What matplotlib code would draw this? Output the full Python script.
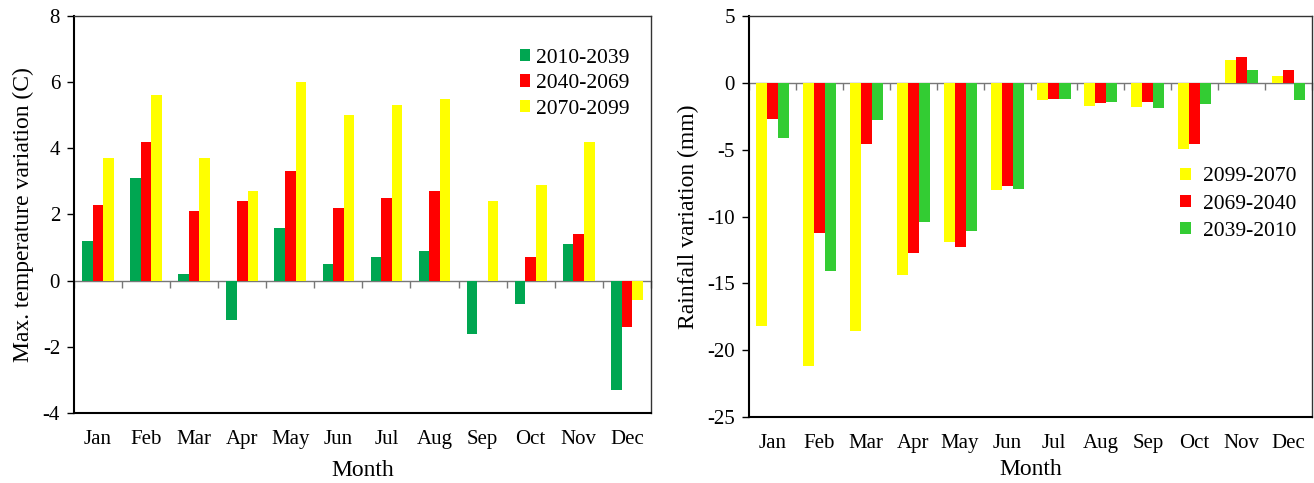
import matplotlib
matplotlib.use("Agg")
import matplotlib.pyplot as plt
import numpy as np

months = ["Jan", "Feb", "Mar", "Apr", "May", "Jun", "Jul", "Aug", "Sep", "Oct", "Nov", "Dec"]

# Left: max temperature variation (C)
temp_2010_2039 = [1.2, 3.1, 0.2, -1.2, 1.6, 0.5, 0.7, 0.9, -1.6, -0.7, 1.1, -3.3]
temp_2040_2069 = [2.3, 4.2, 2.1, 2.4, 3.3, 2.2, 2.5, 2.7, 0.0, 0.7, 1.4, -1.4]
temp_2070_2099 = [3.7, 5.6, 3.7, 2.7, 6.0, 5.0, 5.3, 5.5, 2.4, 2.9, 4.2, -0.6]
temp_labels = ["2010-2039", "2040-2069", "2070-2099"]

# Right: rainfall variation (mm)
rain_2099_2070 = [-18.2, -21.2, -18.6, -14.4, -11.9, -8.0, -1.3, -1.7, -1.8, -4.95, 1.7, 0.55]
rain_2069_2040 = [-2.7, -11.2, -4.6, -12.7, -12.3, -7.7, -1.2, -1.5, -1.4, -4.55, 1.95, 0.95]
rain_2039_2010 = [-4.1, -14.1, -2.8, -10.4, -11.1, -7.9, -1.2, -1.4, -1.85, -1.6, 1.0, -1.3]
rain_labels = ["2099-2070", "2069-2040", "2039-2010"]

SERIF = "Liberation Serif"
GREEN_L = "#00A651"
GREEN_R = "#33CC33"
RED = "#FF0000"
YELLOW = "#FFFF00"

fig = plt.figure(figsize=(13.14, 4.83), dpi=100)
ax1 = fig.add_axes([0.0563, 0.145, 0.439, 0.822])
ax2 = fig.add_axes([0.570, 0.1366, 0.4285, 0.830])

x = np.arange(len(months))


def style_axes(ax, ylim, yticks, ylabel, xlabelpad):
    ax.set_xlim(-0.5, len(months) - 0.5)
    ax.set_ylim(*ylim)
    ax.set_yticks(yticks)
    ax.set_yticklabels([str(t) for t in yticks], fontfamily=SERIF, fontsize=15)
    ax.set_xticks(x)
    ax.set_xticklabels(months, fontfamily=SERIF, fontsize=15)
    ax.tick_params(axis="x", length=0, pad=12.5)
    ax.tick_params(axis="y", length=5, width=1, direction="out", pad=5)
    for s in ["left", "bottom"]:
        ax.spines[s].set_linewidth(1.5)
        ax.spines[s].set_color("black")
    for s in ["top", "right"]:
        ax.spines[s].set_linewidth(1.0)
        ax.spines[s].set_color("#333333")
    ax.set_xlabel("Month", fontfamily=SERIF, fontsize=17, labelpad=xlabelpad)
    ax.set_ylabel(ylabel, fontfamily=SERIF, fontsize=17, labelpad=6)
    # zero axis with category boundary ticks
    sec = ax.secondary_xaxis(0, transform=ax.transData)
    sec.set_xticks(np.arange(-0.5, len(months), 1.0))
    sec.set_xticklabels([])
    sec.tick_params(axis="x", direction="out", length=5, width=1, color="#777777")
    sec.spines["bottom"].set_color("#777777")
    sec.spines["bottom"].set_linewidth(1.0)


# Left chart
w1 = 0.22
ax1.bar(x - w1, temp_2010_2039, w1, color=GREEN_L, label=temp_labels[0], zorder=2)
ax1.bar(x, temp_2040_2069, w1, color=RED, label=temp_labels[1], zorder=2)
ax1.bar(x + w1, temp_2070_2099, w1, color=YELLOW, label=temp_labels[2], zorder=2)
style_axes(ax1, (-4, 8), [-4, -2, 0, 2, 4, 6, 8], "Max. temperature variation (C)", 8)
leg1 = ax1.legend(loc="upper right", bbox_to_anchor=(0.985, 0.95), frameon=False,
                  prop={"family": SERIF, "size": 15.5}, handlelength=0.5, handleheight=0.5,
                  handletextpad=0.25, labelspacing=0.3, borderaxespad=0.2)

# Right chart
w2 = 0.235
ax2.bar(x - w2, rain_2099_2070, w2, color=YELLOW, label=rain_labels[0], zorder=2)
ax2.bar(x, rain_2069_2040, w2, color=RED, label=rain_labels[1], zorder=2)
ax2.bar(x + w2, rain_2039_2010, w2, color=GREEN_R, label=rain_labels[2], zorder=2)
style_axes(ax2, (-25, 5), [-25, -20, -15, -10, -5, 0, 5], "Rainfall variation (mm)", 4)
leg2 = ax2.legend(loc="upper right", bbox_to_anchor=(0.995, 0.655), frameon=False,
                  prop={"family": SERIF, "size": 15.5}, handlelength=0.5, handleheight=0.5,
                  handletextpad=0.55, labelspacing=0.38, borderaxespad=0.2)

fig.savefig("out.png", dpi=100)
